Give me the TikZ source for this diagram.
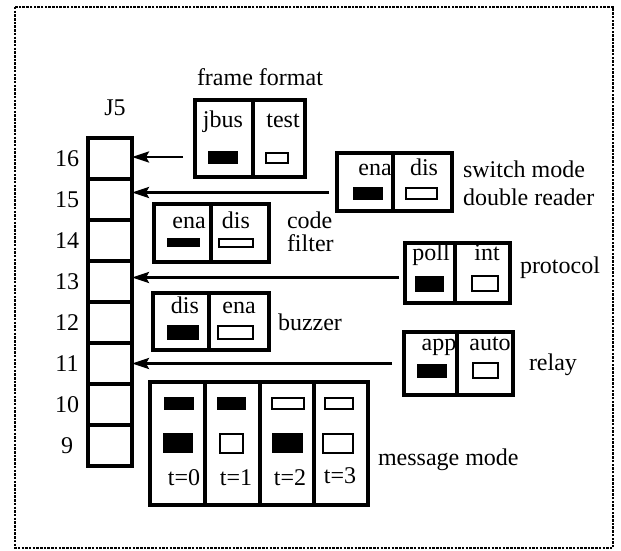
\documentclass[tikz,border=0pt]{standalone}
\usepackage{fontspec}
\setmainfont{DejaVu Serif}
\newfontfamily\tnr{Liberation Serif}[Scale=1.0]
\usetikzlibrary{arrows.meta}
\begin{document}
\begin{tikzpicture}[x=1pt,y=-1pt,
  every node/.style={font=\fontsize{24}{28}\selectfont\tnr, inner sep=0pt, outer sep=0pt},
  bx/.style={draw, line width=3.4pt, anchor=north west},
  div/.style={line width=3.4pt},
  onrect/.style={fill=black, anchor=north west},
  offrect/.style={draw, line width=2.6pt, anchor=north west},
  cell/.style={draw, line width=3.4pt, minimum width=44pt, minimum height=41pt, anchor=north west},
  lab/.style={anchor=base},
  side/.style={anchor=base west},
  arr/.style={line width=2.8pt, -{Stealth[length=17pt,width=11pt,inset=3pt]}},
  frame/.style={line width=2.4pt, dash pattern=on 2.5pt off 1.2pt}
]
\useasboundingbox (0,0) rectangle (621,551);
\draw[frame] (15,7) rectangle (613,548);

% J5 column
\node[anchor=base] (j5) at (115,115) {J5};
\foreach \n [count=\i from 0] in {16,15,14,13,12,11,10,9} {
  \node[cell] (j\n) at (88,{138+41*\i}) {};
  \node (l\n) at (67,{158.5+41*\i}) {\n};
}

% frame format
\node[side] (fft) at (197,85) {frame format};
\node[bx, minimum width=110pt, minimum height=77pt] (ff) at (195,100) {};
\draw[div] (253,100) -- (253,177);
\node[lab] (ffa) at (223,127) {jbus};
\node[lab] (ffb) at (283,127) {test};
\node[onrect, minimum width=30pt, minimum height=13pt] (ffon) at (208,151) {};
\node[offrect, minimum width=22pt, minimum height=10pt] (ffoff) at (266,153) {};

% switch mode double reader
\node[bx, minimum width=115pt, minimum height=58pt] (sw) at (337,153) {};
\draw[div] (393,153) -- (393,211);
\node[lab] (swa) at (375,175) {ena};
\node[lab] (swb) at (424,175) {dis};
\node[onrect, minimum width=30pt, minimum height=13pt] (swon) at (353,187) {};
\node[offrect, minimum width=31pt, minimum height=11pt] (swoff) at (406,188) {};
\node[side] (swt1) at (463,177) {switch mode};
\node[side] (swt2) at (463,205) {double reader};

% code filter
\node[bx, minimum width=115pt, minimum height=58pt] (cf) at (154,204) {};
\draw[div] (211,204) -- (211,262);
\node[lab] (cfa) at (189,228) {ena};
\node[lab] (cfb) at (236,228) {dis};
\node[onrect, minimum width=33pt, minimum height=9pt] (cfon) at (167,238) {};
\node[offrect, minimum width=34pt, minimum height=8pt] (cfoff) at (219,239) {};
\node[side] (cft1) at (287,228) {code};
\node[side] (cft2) at (287,251) {filter};

% protocol
\node[bx, minimum width=105pt, minimum height=60pt] (pr) at (405,243) {};
\draw[div] (455,243) -- (455,303);
\node[lab] (pra) at (431,260) {poll};
\node[lab] (prb) at (487,260) {int};
\node[onrect, minimum width=29pt, minimum height=16pt] (pron) at (415,276) {};
\node[offrect, minimum width=26pt, minimum height=15pt] (proff) at (472,276) {};
\node[side] (prt) at (520,273) {protocol};

% buzzer
\node[bx, minimum width=116pt, minimum height=57pt] (bz) at (153,293) {};
\draw[div] (209,293) -- (209,350);
\node[lab] (bza) at (185,313) {dis};
\node[lab] (bzb) at (239,313) {ena};
\node[onrect, minimum width=32pt, minimum height=15pt] (bzon) at (167,325) {};
\node[offrect, minimum width=35pt, minimum height=13pt] (bzoff) at (218,326) {};
\node[side] (bzt) at (278,330) {buzzer};

% relay
\node[bx, minimum width=109pt, minimum height=63pt] (rl) at (404,332) {};
\draw[div] (457,332) -- (457,395);
\node[lab] (rla) at (439,350) {app};
\node[lab] (rlb) at (490,350) {auto};
\node[onrect, minimum width=30pt, minimum height=14pt] (rlon) at (417,364) {};
\node[offrect, minimum width=25pt, minimum height=15pt] (rloff) at (473,363) {};
\node[side] (rlt) at (529,370) {relay};

% message mode
\node[bx, minimum width=218pt, minimum height=123pt] (mm) at (150,382) {};
\draw[div] (205,382) -- (205,505);
\draw[div] (260,382) -- (260,505);
\draw[div] (314,382) -- (314,505);
\node[onrect, minimum width=30pt, minimum height=13pt] (m0a) at (164,397) {};
\node[onrect, minimum width=29pt, minimum height=13pt] (m1a) at (217,397) {};
\node[offrect, minimum width=32pt, minimum height=11pt] (m2a) at (272,398) {};
\node[offrect, minimum width=28pt, minimum height=11pt] (m3a) at (325,398) {};
\node[onrect, minimum width=30pt, minimum height=20pt] (m0b) at (163,433) {};
\node[offrect, minimum width=23pt, minimum height=19pt] (m1b) at (220,434) {};
\node[onrect, minimum width=31pt, minimum height=20pt] (m2b) at (272,433) {};
\node[offrect, minimum width=30pt, minimum height=19pt] (m3b) at (323,434) {};
\node[lab] (t0) at (184,485) {t=0};
\node[lab] (t1) at (236,485) {t=1};
\node[lab] (t2) at (290,485) {t=2};
\node[lab] (t3) at (340,483) {t=3};
\node[side] (mmt) at (378,465) {message mode};

% arrows
\coordinate (e16) at ([yshift=1.5pt]j16.east);
\coordinate (e15) at ([yshift=7pt]j15.east);
\coordinate (e13) at ([yshift=4pt]j13.east);
\coordinate (e11) at (j11.east);
\draw[arr, shorten <=12pt] (ff.west |- e16) -- (e16);
\draw[arr, shorten <=8pt] (sw.west |- e15) -- (e15);
\draw[arr, shorten <=6pt] (pr.west |- e13) -- (e13);
\draw[arr, shorten <=12pt] (rl.west |- e11) -- (e11);
\end{tikzpicture}
\end{document}
